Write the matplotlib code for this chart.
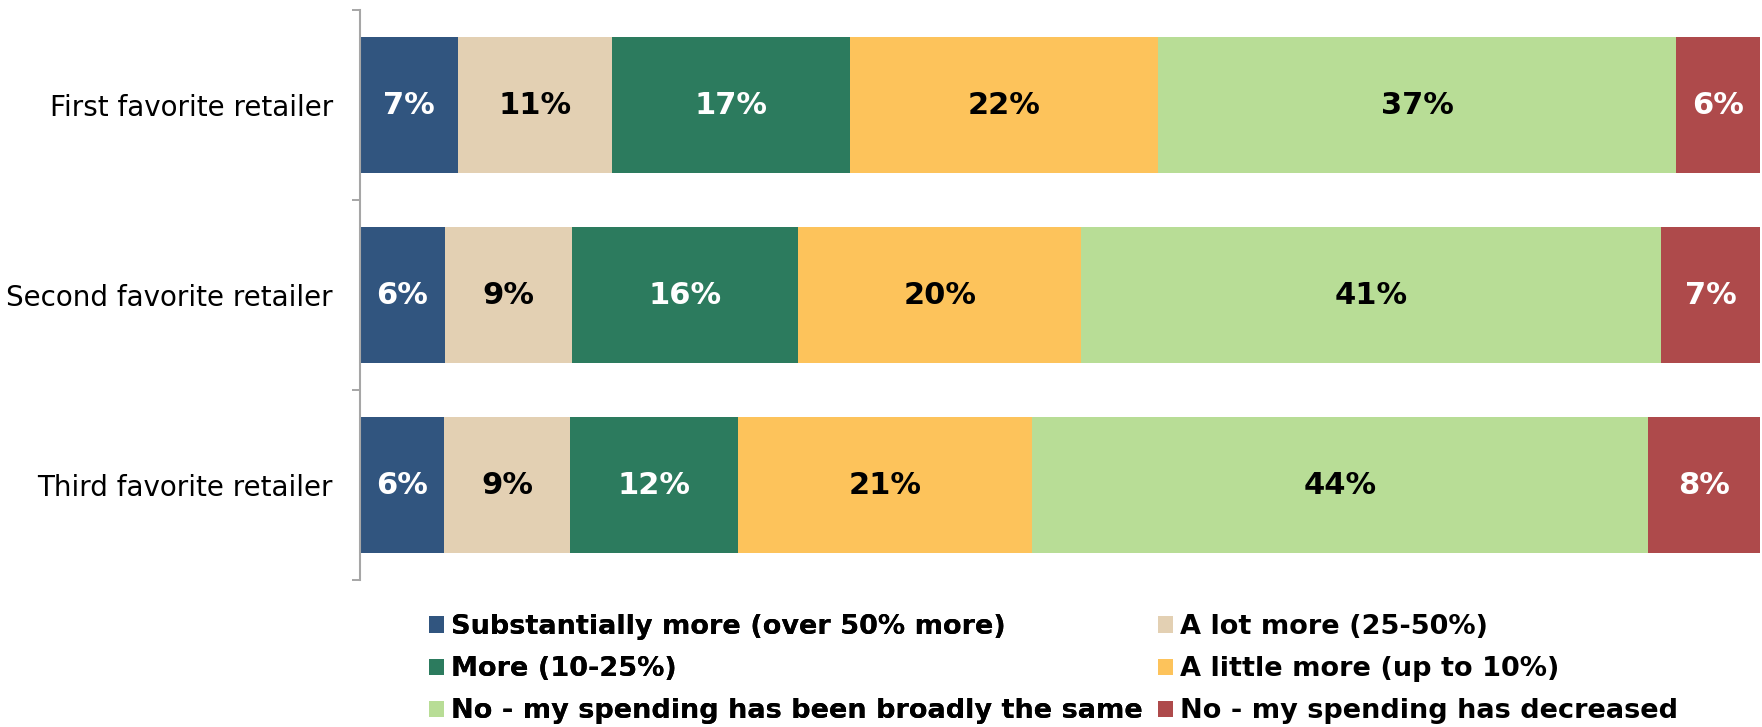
import numpy as np
import matplotlib
matplotlib.use("Agg")
import matplotlib.pyplot as plt
from matplotlib.patches import Patch

plt.rcParams["font.family"] = ["DejaVu Sans"]

categories = ["First favorite retailer", "Second favorite retailer", "Third favorite retailer"]
series_names = [
    "Substantially more (over 50% more)",
    "A lot more (25-50%)",
    "More (10-25%)",
    "A little more (up to 10%)",
    "No - my spending has been broadly the same",
    "No - my spending has decreased",
]
substantially_more = [7, 6, 6]
a_lot_more = [11, 9, 9]
more = [17, 16, 12]
a_little_more = [22, 20, 21]
broadly_same = [37, 41, 44]
decreased = [6, 7, 8]

colors = ["#31557F", "#E3D0B3", "#2C7B5E", "#FDC35B", "#B8DD96", "#AE4A4B"]
label_colors = ["white", "black", "white", "black", "black", "white"]

values = np.array([substantially_more, a_lot_more, more, a_little_more, broadly_same, decreased], dtype=float)
# 100% stacked: each row scaled to its total
shares = values / values.sum(axis=0) * 100

W, H = 1762, 727
fig = plt.figure(figsize=(W / 100, H / 100), dpi=100)
ax = fig.add_axes([360 / W, 1 - 580 / H, (1760 - 360) / W, (580 - 10) / H])

y = np.arange(len(categories))
left = np.zeros(len(categories))
for i, name in enumerate(series_names):
    bars = ax.barh(y, shares[i], left=left, height=0.716, color=colors[i], label=name)
    for j, b in enumerate(bars):
        ax.text(left[j] + shares[i][j] / 2, y[j], f"{int(values[i][j])}%",
                ha="center", va="center", color=label_colors[i],
                fontsize=22, fontweight="bold")
    left += shares[i]

ax.set_xlim(0, 100)
ax.set_ylim(len(categories) - 0.5, -0.5)
ax.set_xticks([])
ax.set_yticks(y)
ax.set_yticklabels(categories, fontsize=20)
ax.tick_params(axis="y", which="major", length=0, pad=19.5)
ax.set_yticks(np.arange(len(categories) + 1) - 0.5, minor=True)
ax.tick_params(axis="y", which="minor", length=5.8, width=1.4, color="#A6A6A6")
for s in ["top", "right", "bottom"]:
    ax.spines[s].set_visible(False)
ax.spines["left"].set_color("#A6A6A6")
ax.spines["left"].set_linewidth(1.5)

handles = [Patch(facecolor=c, edgecolor="none") for c in colors]
legend_kw = dict(loc="upper left", ncol=1, frameon=False, borderpad=0, borderaxespad=0,
                 handlelength=0.55, handleheight=0.55, handletextpad=0.26,
                 labelspacing=0.6, prop={"size": 19.5, "weight": "bold"})
leg1 = fig.legend([handles[k] for k in (0, 2, 4)], [series_names[k] for k in (0, 2, 4)],
                  bbox_to_anchor=(429 / W, 1 - 614 / H), **legend_kw)
fig.add_artist(leg1)
fig.legend([handles[k] for k in (1, 3, 5)], [series_names[k] for k in (1, 3, 5)],
           bbox_to_anchor=(1158 / W, 1 - 614 / H), **legend_kw)

fig.savefig("out.png", dpi=100, facecolor="white")
